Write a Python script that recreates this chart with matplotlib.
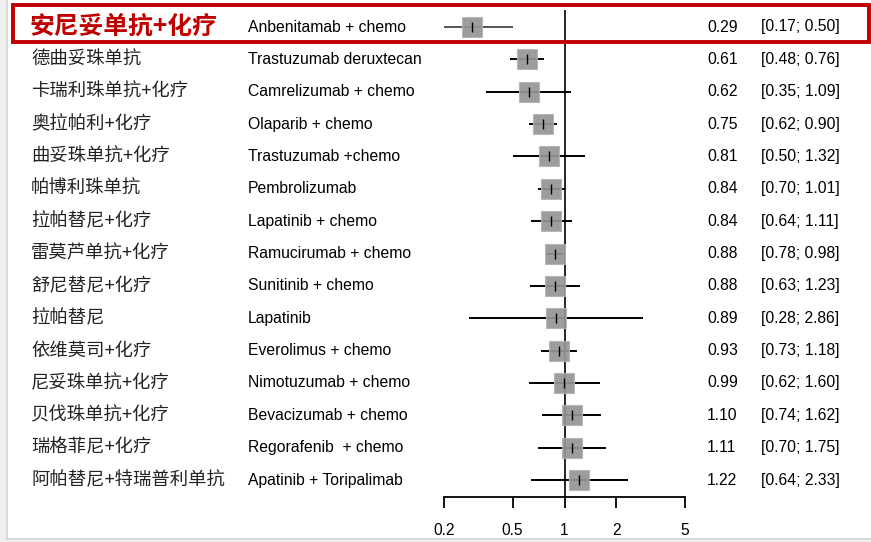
import matplotlib
matplotlib.use("Agg")
import matplotlib.pyplot as plt
from matplotlib.patches import Rectangle
from matplotlib.transforms import blended_transform_factory

# Treatments (Chinese / English), hazard ratios and 95% CIs
names_cn = ["安尼妥单抗+化疗", "德曲妥珠单抗", "卡瑞利珠单抗+化疗", "奥拉帕利+化疗",
            "曲妥珠单抗+化疗", "帕博利珠单抗", "拉帕替尼+化疗", "雷莫芦单抗+化疗",
            "舒尼替尼+化疗", "拉帕替尼", "依维莫司+化疗", "尼妥珠单抗+化疗",
            "贝伐珠单抗+化疗", "瑞格菲尼+化疗", "阿帕替尼+特瑞普利单抗"]
names_en = ["Anbenitamab + chemo", "Trastuzumab deruxtecan", "Camrelizumab + chemo",
            "Olaparib + chemo", "Trastuzumab +chemo", "Pembrolizumab",
            "Lapatinib + chemo", "Ramucirumab + chemo", "Sunitinib + chemo",
            "Lapatinib", "Everolimus + chemo", "Nimotuzumab + chemo",
            "Bevacizumab + chemo", "Regorafenib  + chemo", "Apatinib + Toripalimab"]
hr = [0.29, 0.61, 0.62, 0.75, 0.81, 0.84, 0.84, 0.88, 0.88, 0.89, 0.93, 0.99,
      1.10, 1.11, 1.22]
lower = [0.17, 0.48, 0.35, 0.62, 0.50, 0.70, 0.64, 0.78, 0.63, 0.28, 0.73, 0.62,
         0.74, 0.70, 0.64]
upper = [0.50, 0.76, 1.09, 0.90, 1.32, 1.01, 1.11, 0.98, 1.23, 2.86, 1.18, 1.60,
         1.62, 1.75, 2.33]
x_ticks = [0.2, 0.5, 1, 2, 5]
x_tick_labels = ["0.2", "0.5", "1", "2", "5"]

W, H = 871, 542
fig = plt.figure(figsize=(W / 100, H / 100), dpi=100)
fig.patch.set_facecolor("white")

CN_FONT = ["Noto Sans CJK SC", "DejaVu Sans"]
EN_FONT = ["Liberation Sans", "DejaVu Sans"]
RED = "#c00000"


def fx(px):
    return px / W


def fy(py):
    return 1 - py / H


# light frame on the left and bottom
fig.patches.append(Rectangle((0, 0), fx(7), 1, transform=fig.transFigure,
                             facecolor="#efefef", edgecolor="none", zorder=0))
fig.patches.append(Rectangle((0, 0), 1, fy(539), transform=fig.transFigure,
                             facecolor="#efefef", edgecolor="none", zorder=0))
fig.add_artist(plt.Line2D([fx(7), fx(7)], [fy(539), 1], transform=fig.transFigure,
                          color="#d4d4d4", lw=1.2))
fig.add_artist(plt.Line2D([fx(7), 1], [fy(539), fy(539)], transform=fig.transFigure,
                          color="#d4d4d4", lw=1.2))

# forest panel
row0, step = 27.0, 32.36
ax_left, ax_right, ax_top, ax_bottom = 444, 685, 10, 497
ax = fig.add_axes([fx(ax_left), fy(ax_bottom), fx(ax_right - ax_left),
                   (ax_bottom - ax_top) / H])
ax.set_xscale("log")
ax.set_xlim(0.2, 5)
ax.set_ylim((ax_bottom - row0) / step, (ax_top - row0) / step)
ax.patch.set_alpha(0)
for s in ("top", "right", "left"):
    ax.spines[s].set_visible(False)
ax.spines["bottom"].set_linewidth(1.3)
ax.set_yticks([])
ax.set_xticks(x_ticks)
ax.set_xticklabels(x_tick_labels, fontfamily=EN_FONT, fontsize=11.2)
ax.minorticks_off()
ax.tick_params(axis="x", direction="out", length=8, width=1.3, pad=11)

ax.axvline(1, color="black", lw=1.2, zorder=1)

n = len(hr)
rows = list(range(n))
for i in rows:
    line_c = "#555555" if i == 0 else "black"
    ax.plot([lower[i], upper[i]], [i, i], color=line_c, lw=1.4, zorder=2,
            solid_capstyle="butt")
ax.scatter(hr, rows, marker="s", s=190, color="#959595", edgecolors="#b4b4b4",
           linewidths=0.8, alpha=0.92, zorder=3)
ax.scatter(hr, rows, marker="|", s=45, color="black", linewidths=1.0, zorder=4)

# text columns
tr = blended_transform_factory(fig.transFigure, ax.transData)
for i in rows:
    if i == 0:
        ax.text(fx(29), i, names_cn[i], transform=tr, fontfamily=CN_FONT,
                fontsize=17.8, fontweight="bold", color=RED, va="center",
                ha="left", clip_on=False)
    else:
        ax.text(fx(31), i, names_cn[i], transform=tr, fontfamily=CN_FONT,
                fontsize=13.2, color="#222222", va="center", ha="left",
                clip_on=False)
    ax.text(fx(248), i, names_en[i], transform=tr, fontfamily=EN_FONT,
            fontsize=11.3, color="black", va="center", ha="left", clip_on=False)
    ax.text(fx(707), i, f"{hr[i]:.2f}", transform=tr, fontfamily=EN_FONT,
            fontsize=11.3, color="black", va="center", ha="left", clip_on=False)
    ax.text(fx(761), i, f"[{lower[i]:.2f}; {upper[i]:.2f}]", transform=tr,
            fontfamily=EN_FONT, fontsize=11.3, color="black", va="center",
            ha="left", clip_on=False)

# highlight box around the first row
fig.patches.append(Rectangle((fx(13), fy(42)), fx(869 - 13), (42 - 5) / H,
                             transform=fig.transFigure, facecolor="none",
                             edgecolor=RED, lw=2.8, zorder=5))

fig.savefig("out.png", dpi=100, facecolor="white")
